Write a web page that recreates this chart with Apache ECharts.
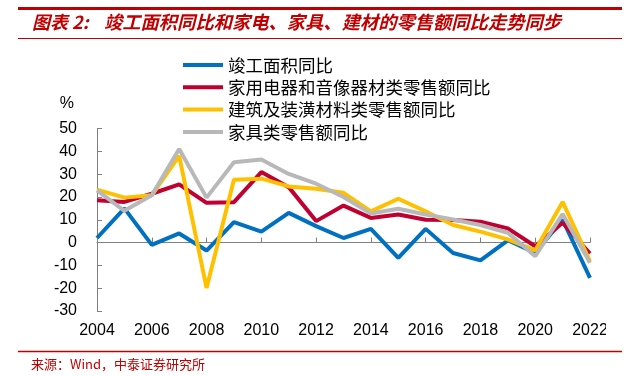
<!doctype html>
<html>
<head>
    <meta http-equiv="Content-Type" content="text/html; charset=utf-8">
    <title>竣工面积同比和家电、家具、建材的零售额同比</title>
    <script src="https://cdn.jsdelivr.net/npm/echarts@6/dist/echarts.min.js"></script>
    <style>
        html, body { margin: 0; padding: 0; background: #fff; }
        #chart { width: 640px; height: 376px; }
    </style>
</head>
<body>
<div id="chart"></div>
<script type="text/javascript">
    // 年份
    var years = ['2004','2005','2006','2007','2008','2009','2010','2011','2012','2013',
                 '2014','2015','2016','2017','2018','2019','2020','2021','2022'];
    // 竣工面积同比
    var jungong = [2, 15, -1, 4, -3.5, 9, 4.8, 13, 7.2, 2, 6, -6.7, 6, -4.6, -7.8, 1, -4.5, 10, -15.5];
    // 家用电器和音像器材类零售额同比
    var jiadian = [18.5, 17.8, 21.4, 25.5, 17.4, 17.7, 30.9, 24.3, 9.4, 16.2, 10.8, 12.3, 10, 9.9, 9.1, 6.2, -1.6, 8.7, -4.8];
    // 建筑及装潢材料类零售额同比
    var jiancai = [23.2, 19.7, 20.7, 38, -19.9, 27.5, 28, 24.6, 23.6, 21.8, 13.7, 19.2, 13.7, 7.7, 4.8, 1.4, -3.4, 17.8, -8.2];
    // 家具类零售额同比
    var jiaju = [22.9, 13.9, 20.7, 41, 19.7, 35.2, 36.4, 30.1, 25.8, 20, 12.7, 14.8, 12.3, 10.1, 7.7, 4.3, -6, 12.5, -8.9];

    var names = ['竣工面积同比', '家用电器和音像器材类零售额同比', '建筑及装潢材料类零售额同比', '家具类零售额同比'];
    var colors = ['#0070C0', '#C00030', '#FFC000', '#B8B8B8'];

    var myChart = echarts.init(document.getElementById('chart'));

    function line(i, data) {
        return {
            name: names[i],
            type: 'line',
            data: data,
            xAxisIndex: 0,
            symbol: 'none',
            lineStyle: { color: colors[i], width: 4 },
            itemStyle: { color: colors[i] }
        };
    }

    var option = {
        animation: false,
        textStyle: { fontFamily: 'Liberation Sans, Arial, sans-serif' },
        grid: { left: 97, right: 50, top: 128.5, bottom: 65, containLabel: false },
        legend: {
            orient: 'vertical',
            left: 183,
            top: 54,
            padding: 0,
            icon: 'rect',
            itemWidth: 40,
            itemHeight: 4,
            itemGap: 0.3,
            textStyle: { fontSize: 17.5, color: '#000', lineHeight: 22, fontFamily: 'Noto Sans CJK SC' },
            data: names
        },
        xAxis: [
            {
                type: 'category',
                data: years,
                boundaryGap: false,
                axisLine: { onZero: true, lineStyle: { color: '#808080', width: 1 } },
                axisTick: { inside: true, length: 5, interval: 1, lineStyle: { color: '#808080' } },
                axisLabel: { show: false }
            },
            {
                type: 'category',
                data: years,
                boundaryGap: false,
                position: 'bottom',
                axisLine: { show: false, onZero: false },
                axisTick: { show: false },
                axisLabel: { interval: 1, fontSize: 16, color: '#000', margin: 12 }
            }
        ],
        yAxis: {
            type: 'value',
            min: -30,
            max: 50,
            interval: 10,
            name: '%',
            nameLocation: 'end',
            nameGap: 17,
            nameTextStyle: { fontSize: 16, color: '#000', align: 'right', padding: [0, 23, 0, 0] },
            splitLine: { show: false },
            axisLine: { show: true, lineStyle: { color: '#808080', width: 1 } },
            axisTick: { show: true, inside: true, length: 5, lineStyle: { color: '#808080' } },
            axisLabel: { fontSize: 16, color: '#000', margin: 20 }
        },
        graphic: [
            { type: 'line', shape: { x1: 18, y1: 8.5, x2: 622, y2: 8.5 }, style: { stroke: '#C00000', lineWidth: 3 } },
            { type: 'line', shape: { x1: 18, y1: 38.5, x2: 622, y2: 38.5 }, style: { stroke: '#C00000', lineWidth: 1 } },
            {
                type: 'text', left: 32, top: 13,
                style: { text: '图表 2:', fill: '#C00000', font: 'italic bold 18px "Noto Sans CJK SC"' }
            },
            {
                type: 'text', left: 104, top: 13,
                style: {
                    text: '竣工面积同比和家电、家具、建材的零售额同比走势同步',
                    fill: '#C00000', font: 'italic bold 18.3px "Noto Sans CJK SC"'
                }
            },
            { type: 'rect', shape: { x: 606, y: 316, width: 34, height: 30 }, style: { fill: '#fff' }, z: 100 },
            { type: 'line', shape: { x1: 18, y1: 351.5, x2: 622, y2: 351.5 }, style: { stroke: '#C00000', lineWidth: 1.5 } },
            {
                type: 'text', left: 31, top: 358,
                style: {
                    text: '来源：Wind，中泰证券研究所',
                    fill: '#C00000', font: '13px "Noto Sans CJK SC"'
                }
            }
        ],
        series: [
            line(0, jungong),
            line(1, jiadian),
            line(2, jiancai),
            line(3, jiaju)
        ]
    };

    myChart.setOption(option);
</script>
</body>
</html>
